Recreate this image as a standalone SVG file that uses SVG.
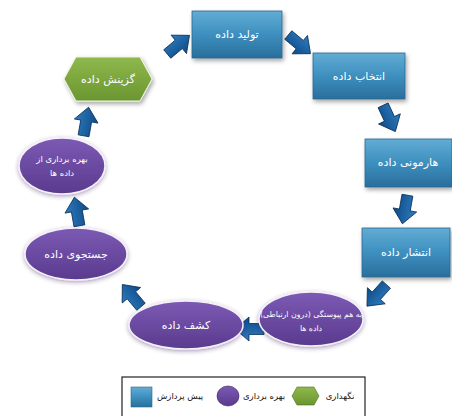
<svg xmlns="http://www.w3.org/2000/svg" width="452" height="416" viewBox="0 0 452 416">
  <defs>
    <linearGradient id="gBox" x1="0" y1="0" x2="0" y2="1">
      <stop offset="0" stop-color="#62acd4"/>
      <stop offset="0.5" stop-color="#3d8fbf"/>
      <stop offset="1" stop-color="#2a6e9c"/>
    </linearGradient>
    <linearGradient id="gEll" x1="0" y1="0" x2="0" y2="1">
      <stop offset="0" stop-color="#7c5ab4"/>
      <stop offset="1" stop-color="#5a3a8e"/>
    </linearGradient>
    <linearGradient id="gHex" x1="0" y1="0" x2="0" y2="1">
      <stop offset="0" stop-color="#8fb94c"/>
      <stop offset="1" stop-color="#6b9530"/>
    </linearGradient>
    <linearGradient id="gArrow" x1="0" y1="0" x2="0" y2="1">
      <stop offset="0" stop-color="#2f7cc0"/>
      <stop offset="1" stop-color="#0d4a86"/>
    </linearGradient>
    <filter id="shadow" x="-20%" y="-20%" width="150%" height="160%">
      <feDropShadow dx="1.5" dy="2.5" stdDeviation="2" flood-color="#000" flood-opacity="0.35"/>
    </filter>
    <filter id="glow" x="-20%" y="-20%" width="140%" height="150%">
      <feDropShadow dx="0" dy="1.5" stdDeviation="2.2" flood-color="#3a2060" flood-opacity="0.45"/>
    </filter>
    <path id="arrow" d="M-14,-5.5 L1,-5.5 L1,-12 L15,0 L1,12 L1,5.5 L-14,5.5 Z"/>
  </defs>
  <style>
    .box { fill: url(#gBox); stroke: #2a6890; stroke-width: 0.8; filter: url(#shadow); }
    .ell { fill: url(#gEll); stroke: #f4f0fa; stroke-width: 1.5; filter: url(#glow); }
    .hex { fill: url(#gHex); stroke: #eef4e0; stroke-width: 1; filter: url(#shadow); }
    .lbl { font-family: "DejaVu Sans", sans-serif; font-size: 11px; fill: #ffffff; text-anchor: middle; }
    .sm { font-size: 8.5px; }
    .xs { font-size: 7.8px; }
    .arr { fill: url(#gArrow); stroke: #0a2e55; stroke-width: 0.8; }
    .leg { font-family: "DejaVu Sans", sans-serif; font-size: 8.5px; fill: #111; text-anchor: middle; }
  </style>
  <rect width="452" height="416" fill="#ffffff"/>

  <!-- connectors -->
  <g id="connectors">
    <use href="#arrow" class="arr" transform="translate(178,45) rotate(-40)"/>
    <use href="#arrow" class="arr" transform="translate(299,44) rotate(40)"/>
    <use href="#arrow" class="arr" transform="translate(389,118) rotate(65)"/>
    <use href="#arrow" class="arr" transform="translate(405,209) rotate(100)"/>
    <use href="#arrow" class="arr" transform="translate(377,295) rotate(132)"/>
    <use href="#arrow" class="arr" transform="translate(250,329) rotate(180)"/>
    <use href="#arrow" class="arr" transform="translate(132,296) rotate(-130)"/>
    <use href="#arrow" class="arr" transform="translate(77,212) rotate(-100)"/>
    <use href="#arrow" class="arr" transform="translate(86,122) rotate(-80)"/>
  </g>

  <!-- pre-processing steps -->
  <g id="n-tolid">
    <rect class="box" x="192" y="11" width="90" height="47"/>
    <text class="lbl" x="237" y="38">تولید داده</text>
  </g>
  <g id="n-entekhab">
    <rect class="box" x="313" y="53" width="92" height="46"/>
    <text class="lbl" x="359" y="80">انتخاب داده</text>
  </g>
  <g id="n-harmony">
    <rect class="box" x="365" y="139" width="87" height="48"/>
    <text class="lbl" x="408" y="166">هارمونی داده</text>
  </g>
  <g id="n-enteshar">
    <rect class="box" x="362" y="228" width="88" height="49"/>
    <text class="lbl" x="406" y="256">انتشار داده</text>
  </g>

  <!-- exploitation steps -->
  <g id="n-peyvastegi">
    <ellipse class="ell" cx="311" cy="319" rx="52" ry="27"/>
    <text class="lbl xs" x="311" y="317">به هم پیوستگی (درون ارتباطی)</text>
    <text class="lbl xs" x="311" y="331">داده ها</text>
  </g>
  <g id="n-kashf">
    <ellipse class="ell" cx="186" cy="325" rx="57" ry="24"/>
    <text class="lbl" x="186" y="329">کشف داده</text>
  </g>
  <g id="n-jostojoo">
    <ellipse class="ell" cx="76" cy="254" rx="51" ry="26"/>
    <text class="lbl" x="76" y="258">جستجوی داده</text>
  </g>
  <g id="n-bahrebardari">
    <ellipse class="ell" cx="62" cy="166" rx="43" ry="28"/>
    <text class="lbl sm" x="62" y="162">بهره برداری از</text>
    <text class="lbl sm" x="62" y="176">داده ها</text>
  </g>

  <!-- preservation step -->
  <g id="n-gozinesh">
    <polygon class="hex" points="64,79 76,57 140,57 152,79 140,101 76,101"/>
    <text class="lbl" x="108" y="83">گزینش داده</text>
  </g>

  <!-- legend -->
  <g id="legend">
    <rect x="122" y="377" width="243" height="45" fill="#ffffff" stroke="#222" stroke-width="1.2"/>
    <rect x="131" y="387" width="21" height="20" fill="url(#gBox)" stroke="#2a6890" stroke-width="0.6"/>
    <text class="leg" x="180" y="399">پیش پردازش</text>
    <ellipse cx="228" cy="396" rx="11" ry="10" fill="url(#gEll)" stroke="#3a2060" stroke-width="0.6"/>
    <text class="leg" x="264" y="399">بهره برداری</text>
    <polygon points="292,396 297,387 314,387 319,396 314,405 297,405" fill="url(#gHex)" stroke="#4f7020" stroke-width="0.6"/>
    <text class="leg" x="340" y="399">نگهداری</text>
  </g>
</svg>
